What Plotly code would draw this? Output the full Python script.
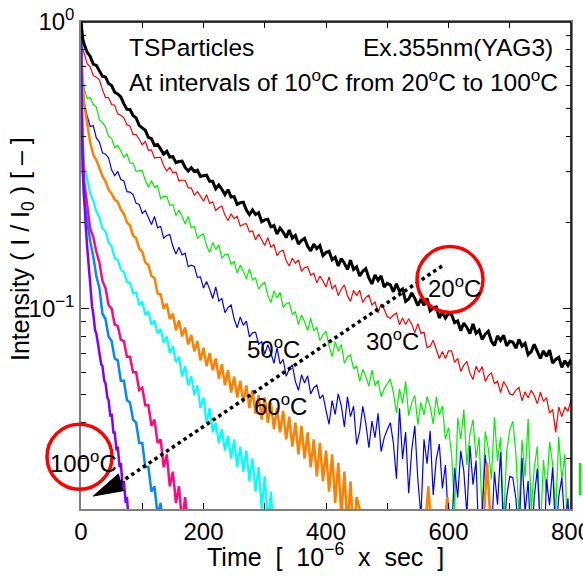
import plotly.graph_objects as go

# ---------------- data ----------------
t_long = [0, 3] + list(range(5, 801, 5))

i_20C = [1.0, 0.87,
         0.84, 0.785, 0.758, 0.713, 0.706, 0.678, 0.647, 0.643, 0.61, 0.60, 0.569, 0.561, 0.548, 0.518, 0.496, 0.495, 0.472, 0.463, 0.436, 0.427,
         0.419, 0.396, 0.392, 0.371, 0.374, 0.36, 0.346, 0.354, 0.338, 0.339, 0.323, 0.326, 0.327, 0.311, 0.302, 0.31, 0.301, 0.304, 0.289, 0.291,
         0.292, 0.278, 0.278, 0.262, 0.27, 0.261, 0.25, 0.26, 0.245, 0.246, 0.231, 0.234, 0.235, 0.221, 0.213, 0.221, 0.213, 0.216, 0.201, 0.204,
         0.205, 0.193, 0.195, 0.182, 0.191, 0.185, 0.177, 0.188, 0.176, 0.18, 0.168, 0.173, 0.176, 0.165, 0.159, 0.168, 0.162, 0.166, 0.153, 0.157,
         0.1585, 0.148, 0.151, 0.141, 0.1495, 0.144, 0.137, 0.1475, 0.137, 0.140, 0.130, 0.135, 0.138, 0.128, 0.122, 0.131, 0.1255, 0.130, 0.119, 0.1225,
         0.121, 0.1145, 0.122, 0.115, 0.117, 0.106, 0.108, 0.1135, 0.1086, 0.1025, 0.108, 0.1028, 0.1086, 0.0983, 0.1005, 0.1014, 0.0928, 0.0972, 0.0928, 0.0963,
         0.0953, 0.0894, 0.0906, 0.0838, 0.0891, 0.086, 0.0819, 0.0885, 0.082, 0.084, 0.0781, 0.0815, 0.0834, 0.0771, 0.0743, 0.0803, 0.0775, 0.0807, 0.0742, 0.0769,
         0.0764, 0.0728, 0.0781, 0.074, 0.0757, 0.0691, 0.0708, 0.075, 0.0714, 0.0671, 0.0712, 0.0682, 0.0717, 0.0646, 0.0665, 0.0676, 0.0624, 0.0658, 0.0633, 0.0663]

i_30C = [1.0, 0.80,
         0.78, 0.716, 0.698, 0.651, 0.642, 0.628, 0.581, 0.545, 0.545, 0.515, 0.512, 0.478, 0.473, 0.463, 0.438, 0.433, 0.405, 0.405, 0.39, 0.373,
         0.383, 0.357, 0.358, 0.335, 0.337, 0.337, 0.315, 0.302, 0.311, 0.298, 0.30, 0.279, 0.281, 0.28, 0.264, 0.264, 0.249, 0.256, 0.247, 0.237,
         0.25, 0.233, 0.236, 0.22, 0.225, 0.228, 0.212, 0.203, 0.214, 0.206, 0.21, 0.194, 0.197, 0.198, 0.185, 0.187, 0.174, 0.182, 0.174, 0.166,
         0.177, 0.164, 0.167, 0.153, 0.158, 0.160, 0.147, 0.141, 0.150, 0.144, 0.148, 0.135, 0.139, 0.14, 0.131, 0.133, 0.123, 0.130, 0.125, 0.119,
         0.129, 0.117, 0.121, 0.111, 0.117, 0.121, 0.111, 0.106, 0.116, 0.111, 0.116, 0.105, 0.1095, 0.1115, 0.103, 0.1055, 0.0968, 0.1038, 0.0995, 0.0939,
         0.0924, 0.095, 0.0966, 0.0878, 0.0928, 0.0881, 0.0922, 0.0882, 0.0825, 0.0887, 0.082, 0.0828, 0.0731, 0.0739, 0.0776, 0.0725, 0.067, 0.0709, 0.067, 0.0712,
         0.0713, 0.0649, 0.0671, 0.0604, 0.0635, 0.0655, 0.0595, 0.0566, 0.0629, 0.06, 0.0628, 0.0557, 0.0584, 0.0597, 0.0547, 0.0559, 0.051, 0.0557, 0.0535, 0.0505,
         0.05, 0.052, 0.0531, 0.0477, 0.0513, 0.0488, 0.0519, 0.0498, 0.0466, 0.0511, 0.0475, 0.0489, 0.0432, 0.0445, 0.037, 0.0454, 0.042, 0.0454, 0.0438, 0.0482]

i_40C = [1.0, 0.63,
         0.59, 0.54, 0.546, 0.515, 0.506, 0.456, 0.446, 0.43, 0.40, 0.393, 0.365, 0.371, 0.355, 0.337, 0.347, 0.322, 0.322, 0.301, 0.303, 0.303,
         0.28, 0.265, 0.28, 0.265, 0.269, 0.2425, 0.247, 0.2465, 0.229, 0.231, 0.211, 0.221, 0.21, 0.1976, 0.2097, 0.1917, 0.1935, 0.1763, 0.18, 0.1824,
         0.166, 0.157, 0.17, 0.161, 0.167, 0.15, 0.154, 0.155, 0.143, 0.146, 0.133, 0.142, 0.135, 0.127, 0.138, 0.126, 0.128, 0.117, 0.121, 0.124,
         0.111, 0.105, 0.1155, 0.109, 0.114, 0.101, 0.104, 0.105, 0.0956, 0.0975, 0.088, 0.095, 0.09, 0.0838, 0.0927, 0.0836, 0.0862, 0.0774, 0.0811, 0.0834,
         0.074, 0.068, 0.0767, 0.071, 0.075, 0.0646, 0.0678, 0.0689, 0.0616, 0.0632, 0.0557, 0.0614, 0.058, 0.0536, 0.061, 0.0539, 0.0562, 0.0493, 0.0525, 0.0546,
         0.0569, 0.0509, 0.0433, 0.0525, 0.0468, 0.0558, 0.0424, 0.047, 0.0498, 0.0394, 0.0471, 0.0426, 0.0493, 0.0456, 0.0396, 0.0492, 0.0425, 0.0458, 0.035, 0.0385,
         0.031, 0.020, 0.0416, 0.0351, 0.0445, 0.0285, 0.0366, 0.041, 0.0301, 0.0356, 0.019, 0.0373, 0.0324, 0.0254, 0.0418, 0.0293, 0.0356, 0.018, 0.0317, 0.0377,
         0.0405, 0.0312, 0.0191, 0.0349, 0.0259, 0.0413, 0.0197, 0.0279, 0.0331, 0.0164, 0.0297, 0.0227, 0.0343, 0.0287, 0.0194, 0.0357, 0.0252, 0.0311, 0.0135, 0.0194]

i_50C = [1.0, 0.565,
         0.528, 0.47, 0.432, 0.435, 0.394, 0.381, 0.35, 0.346, 0.336, 0.305, 0.291, 0.301, 0.282, 0.279, 0.256, 0.255, 0.25, 0.233, 0.231, 0.215,
         0.22, 0.209, 0.1967, 0.2097, 0.1917, 0.1935, 0.1763, 0.18, 0.1813, 0.165, 0.1551, 0.1638, 0.154, 0.1562, 0.1402, 0.1417, 0.1404, 0.1286, 0.129, 0.118,
         0.1244, 0.117, 0.1085, 0.119, 0.1063, 0.1084, 0.0968, 0.1008, 0.103, 0.092, 0.0858, 0.0936, 0.0875, 0.0904, 0.0797, 0.0823, 0.0828, 0.0752, 0.0767, 0.0693,
         0.0749, 0.07, 0.0644, 0.073, 0.0642, 0.0666, 0.0581, 0.0616, 0.0637, 0.0557, 0.0519, 0.0588, 0.055, 0.0583, 0.0504, 0.053, 0.0541, 0.0485, 0.05, 0.0442,
         0.0395, 0.0478, 0.0428, 0.0504, 0.0458, 0.0387, 0.0493, 0.042, 0.0457, 0.0336, 0.0373, 0.0456, 0.0398, 0.0327, 0.0405, 0.0355, 0.0431, 0.0317, 0.0355, 0.0378,
         0.04, 0.034, 0.0255, 0.0449, 0.0299, 0.0371, 0.0227, 0.0322, 0.039, 0.0252, 0.0189, 0.035, 0.0288, 0.0375, 0.0224, 0.0298, 0.0337, 0.0236, 0.0285, 0.0177,
         0.0164, 0.0278, 0.0219, 0.0319, 0.0271, 0.0191, 0.0333, 0.0243, 0.0295, 0.0142, 0.0194, 0.0309, 0.0243, 0.0158, 0.027, 0.0207, 0.0316, 0.0163, 0.0221, 0.026,
         0.0257, 0.0217, 0.0158, 0.0302, 0.0195, 0.0251, 0.0145, 0.022, 0.0276, 0.0171, 0.0124, 0.0254, 0.0206, 0.0279, 0.0158, 0.0221, 0.0257, 0.0174, 0.0218, 0.0127]

t_60C = [0, 2, 5, 10, 15] + list(range(20, 451, 5)) + [470, 540, 560, 567, 574, 590, 598, 606, 655, 663, 671, 700]
i_60C = [1.0, 0.65, 0.52, 0.44, 0.38,
         0.345, 0.33, 0.31, 0.29, 0.278, 0.26, 0.252, 0.24, 0.236, 0.222, 0.214, 0.2, 0.195, 0.18, 0.176, 0.162, 0.158, 0.145, 0.142, 0.13,
         0.128, 0.113, 0.112, 0.1, 0.104, 0.092, 0.096, 0.084, 0.091, 0.08, 0.086, 0.075, 0.081, 0.071, 0.077, 0.066, 0.073, 0.063, 0.07, 0.061,
         0.067, 0.057, 0.064, 0.054, 0.061, 0.051, 0.058, 0.049, 0.056, 0.047, 0.054, 0.045, 0.052, 0.043, 0.05, 0.041, 0.049, 0.04, 0.047, 0.038,
         0.045, 0.037, 0.044, 0.035, 0.042, 0.033, 0.04, 0.031, 0.039, 0.03, 0.037, 0.028, 0.035, 0.026, 0.034, 0.025, 0.032, 0.023, 0.031, 0.021,
         0.029, 0.019, 0.027, 0.017, 0.025, 0.016, 0.022,
         0.015, 0.015, 0.015, 0.024, 0.015, 0.015, 0.022, 0.015, 0.015, 0.029, 0.015, 0.015]

t_70C = [0, 2, 5, 10, 15] + list(range(20, 331, 5))
i_70C = [1.0, 0.42, 0.32, 0.28, 0.252,
         0.238, 0.218, 0.208, 0.19, 0.186, 0.17, 0.165, 0.15, 0.148, 0.137, 0.134, 0.124, 0.123, 0.113, 0.114, 0.103, 0.106, 0.095, 0.098, 0.088,
         0.091, 0.082, 0.085, 0.076, 0.08, 0.07, 0.074, 0.065, 0.068, 0.058, 0.063, 0.054, 0.058, 0.05, 0.054, 0.045, 0.049, 0.04, 0.045, 0.037,
         0.04, 0.034, 0.038, 0.032, 0.036, 0.03, 0.035, 0.028, 0.033, 0.027, 0.032, 0.025, 0.03, 0.023, 0.028, 0.02, 0.026, 0.018, 0.023, 0.016,
         0.02, 0.015, 0.017]

t_80C = [0, 2] + list(range(5, 196, 5))
i_80C = [1.0, 0.4, 0.28, 0.225, 0.19, 0.178, 0.158, 0.145, 0.125, 0.118, 0.103, 0.1, 0.088, 0.087,
         0.078, 0.077, 0.068, 0.068, 0.06, 0.06, 0.052, 0.053, 0.046, 0.046, 0.039, 0.041, 0.034,
         0.035, 0.028, 0.031, 0.024, 0.027, 0.021, 0.024, 0.018, 0.022, 0.016, 0.02, 0.015, 0.018,
         0.015]

t_90C = [0, 2] + list(range(5, 146, 5))
i_90C = [1.0, 0.35, 0.24, 0.2, 0.172, 0.152, 0.13, 0.118, 0.096, 0.092, 0.08, 0.077, 0.067, 0.066,
         0.056, 0.056, 0.048, 0.047, 0.041, 0.04, 0.034, 0.034, 0.028, 0.028, 0.023, 0.024, 0.019,
         0.021, 0.016, 0.018, 0.015]

t_100C = [0, 1, 3, 5, 8, 10, 13, 15, 18, 20, 23, 25, 28, 30, 33, 35, 38, 40, 43, 45, 48, 50, 53, 55,
          58, 60, 63, 65, 68, 70, 73, 75, 78, 80, 83, 85]
i_100C = [1.0, 0.5, 0.3, 0.24, 0.19, 0.165, 0.135, 0.125, 0.102, 0.096, 0.084, 0.082, 0.074, 0.072,
          0.064, 0.063, 0.056, 0.055, 0.049, 0.048, 0.042, 0.043, 0.037, 0.037, 0.032, 0.033, 0.028,
          0.029, 0.024, 0.025, 0.021, 0.022, 0.018, 0.019, 0.016, 0.015]

x_ticks = [0, 100, 200, 300, 400, 500, 600, 700, 800]
x_ticktext = ["0", "", "200", "", "400", "", "600", "", "800"]
y_major = [0.1, 1]
y_major_text = ["10<sup>\u22121</sup>", "10<sup>0</sup>"]
y_minor = [0.02, 0.03, 0.04, 0.05, 0.06, 0.07, 0.08, 0.09, 0.2, 0.3, 0.4, 0.5, 0.6, 0.7, 0.8, 0.9]

FONT = "Liberation Sans, Arial, sans-serif"

series = [
    # (x, y, colour, width)
    (t_long, i_30C, "#ff0000", 1.2),
    (t_long, i_40C, "#00ee00", 1.2),
    (t_long, i_50C, "#0000ff", 1.2),
    (t_60C, i_60C, "#ff8000", 2.5),
    (t_70C, i_70C, "#00ffff", 2.2),
    (t_80C, i_80C, "#ff0a7e", 2.5),
    (t_90C, i_90C, "#0a84ff", 2.5),
    (t_100C, i_100C, "#8000ff", 2.5),
    (t_long, i_20C, "#000000", 3.0),
]

fig = go.Figure()
for xs, ys, col, w in series:
    n = min(len(xs), len(ys))
    fig.add_trace(go.Scatter(x=xs[:n], y=ys[:n], mode="lines", line=dict(color=col, width=w),
                             showlegend=False, hoverinfo="skip"))

# ---------------- layout ----------------
W, H = 583, 577
L, R, T, B = 81, 12, 22, 68
pw, ph = W - L - R, H - T - B


def px(xp):
    return (xp - L) / pw


def py(yp):
    return (H - B - yp) / ph


fig.update_layout(
    width=W, height=H,
    margin=dict(l=L, r=R, t=T, b=B, autoexpand=False),
    paper_bgcolor="white", plot_bgcolor="white",
    font=dict(family=FONT, size=24, color="black"),
    showlegend=False,
    xaxis=dict(range=[0, 800], tickvals=x_ticks, ticktext=x_ticktext, ticks="inside", ticklen=6,
               tickcolor="black", showline=True, linecolor="#808080", linewidth=1.5, mirror="ticks",
               showgrid=False, zeroline=False, tickfont=dict(size=24), automargin=False,
               ticklabeloverflow="allow"),
    yaxis=dict(type="log", range=[-1.69897, 0], tickvals=y_major, ticktext=y_major_text,
               ticks="inside", ticklen=8, tickcolor="black", showline=True, linecolor="#808080",
               linewidth=1.5, mirror="ticks", showgrid=False, zeroline=False, tickfont=dict(size=24),
               automargin=False,
               minor=dict(tickvals=y_minor, ticks="inside", ticklen=5, tickcolor="black")),
)

shapes = []
# black top and right frame lines
shapes.append(dict(type="line", xref="paper", yref="paper", x0=0, x1=1, y0=1, y1=1,
                   line=dict(color="black", width=1.5)))
shapes.append(dict(type="line", xref="paper", yref="paper", x0=1, x1=1, y0=0, y1=1,
                   line=dict(color="black", width=1.5)))
# dotted arrow shaft
shapes.append(dict(type="line", xref="paper", yref="paper", x0=px(442), y0=py(266), x1=px(121), y1=py(482),
                   line=dict(color="black", width=3.5, dash="dot")))
# arrow head
shapes.append(dict(type="path", xref="paper", yref="paper",
                   path="M %f,%f L %f,%f L %f,%f Z" % (px(93.3), py(496), px(118.3), py(474),
                                                       px(123.3), py(490.7)),
                   fillcolor="black", line=dict(color="black", width=1)))
# red circles
for cx, cy, r in [(450, 279.5, 33), (79.5, 456.7, 32.5)]:
    shapes.append(dict(type="circle", xref="paper", yref="paper", x0=px(cx - r), x1=px(cx + r),
                       y0=py(cy + r), y1=py(cy - r), line=dict(color="#ff0000", width=3.5)))
# green stray mark outside right edge
shapes.append(dict(type="line", xref="paper", yref="paper", x0=px(580), x1=px(580), y0=py(463), y1=py(495),
                   line=dict(color="#00ee00", width=2.5)))
fig.update_layout(shapes=shapes)

ann = []


def text(s, xp, yp, xanchor="center", size=24, angle=0):
    ann.append(dict(text=s, x=px(xp), y=py(yp), xref="paper", yref="paper", xanchor=xanchor,
                    yanchor="middle", showarrow=False, textangle=angle,
                    font=dict(family=FONT, size=size, color="black")))


deg = "<sup>o</sup>C"
sp = "\u00a0 "
text("TSParticles", 127, 47, "left", 24.5)
text("Ex.355nm(YAG3)", 555, 47, "right", 24.5)
text("At intervals of 10" + deg + " from 20" + deg + " to 100" + deg, 127, 80, "left", 24.5)
text("20" + deg, 454, 287)
text("30" + deg, 392, 340)
text("50" + deg, 273, 348)
text("60" + deg, 280, 405)
text("100" + deg, 83.5, 462)
text("Time" + sp + "[" + sp + "10<sup>\u22126</sup>" + sp + "x" + sp + "sec" + sp + "]", 325, 555, "center", 25)
text("Intensity ( I / I<sub>0</sub> ) [ \u2013 ]", 22, 249, "center", 25, -90)
fig.update_layout(annotations=ann)

fig.write_html("out.html", config={"displayModeBar": False},
               post_script="document.body.style.margin='0px';document.body.style.padding='0px';"
                           "document.body.style.overflow='hidden';")
